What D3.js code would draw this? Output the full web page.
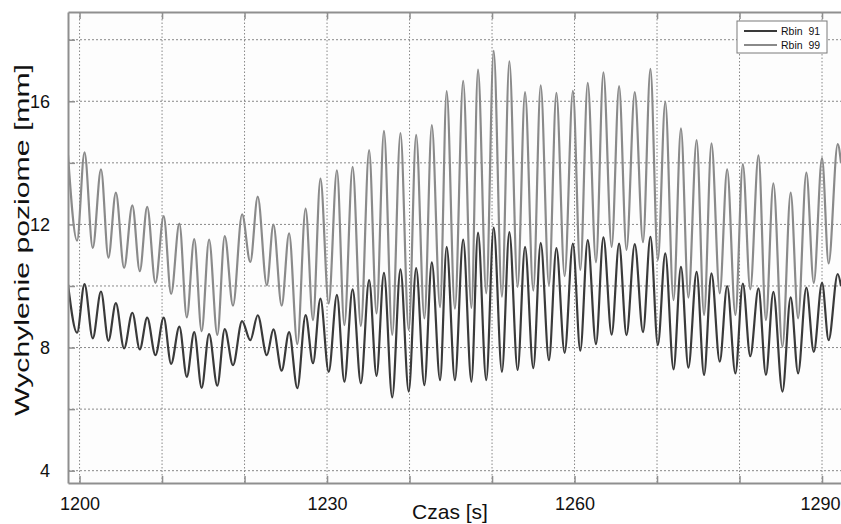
<!DOCTYPE html>
<html>
<head>
<meta charset="utf-8">
<script src="https://cdn.jsdelivr.net/npm/d3@7"></script>
<style>
  body { margin: 0; background: #fff; }
  text { font-family: "Liberation Sans", Arial, sans-serif; fill: #111; }
</style>
</head>
<body>
<div class="chart"></div>
<script>
// times of the turning points (peaks and troughs), shared by both series
var times = [
  1198.6, 1199.7, 1200.6, 1201.6, 1202.6, 1203.5, 1204.4, 1205.4, 1206.4, 1207.3,
  1208.2, 1209.2, 1210.2, 1211.1, 1212.1, 1213.0, 1213.9, 1214.8, 1215.7, 1216.7,
  1217.6, 1218.6, 1219.7, 1220.7, 1221.6, 1222.7, 1223.5, 1224.5, 1225.4, 1226.4,
  1227.4, 1228.3, 1229.2, 1230.2, 1231.2, 1232.1, 1233.1, 1234.1, 1235.1, 1236.0,
  1236.9, 1237.9, 1238.9, 1239.9, 1240.8, 1241.8, 1242.7, 1243.7, 1244.5, 1245.5,
  1246.5, 1247.5, 1248.3, 1249.3, 1250.2, 1251.2, 1252.1, 1253.1, 1254.0, 1255.0,
  1255.9, 1256.9, 1257.8, 1258.8, 1259.8, 1260.7, 1261.6, 1262.6, 1263.5, 1264.5,
  1265.4, 1266.3, 1267.3, 1268.3, 1269.2, 1270.1, 1271.0, 1272.0, 1272.9, 1273.8,
  1274.8, 1275.7, 1276.6, 1277.6, 1278.5, 1279.5, 1280.4, 1281.3, 1282.3, 1283.2,
  1284.1, 1285.2, 1286.2, 1287.1, 1288.1, 1289.0, 1290.0, 1290.8, 1291.9, 1292.3
];

// Rbin 91 (dark line)
var rbin91 = [
  10.05, 8.48, 10.06, 8.30, 9.82, 8.22, 9.44, 7.97, 9.13, 7.94,
  8.97, 7.75, 8.97, 7.47, 8.68, 7.05, 8.50, 6.69, 8.44, 6.76,
  8.60, 7.43, 8.86, 8.24, 9.05, 7.75, 8.59, 7.25, 8.50, 6.68,
  9.05, 7.49, 9.59, 7.21, 9.71, 6.89, 9.89, 6.84, 10.19, 7.08,
  10.43, 6.38, 10.54, 6.57, 10.58, 6.78, 10.77, 6.94, 11.27, 6.94,
  11.51, 6.89, 11.73, 6.94, 11.90, 7.21, 11.75, 7.27, 11.27, 7.33,
  11.40, 7.59, 11.23, 7.83, 11.38, 7.90, 11.49, 8.11, 11.58, 8.42,
  11.38, 8.40, 11.36, 8.50, 11.60, 8.08, 11.06, 7.29, 10.62, 7.35,
  10.46, 7.11, 10.41, 7.54, 10.00, 7.16, 10.08, 7.72, 9.92, 7.11,
  9.81, 6.57, 9.63, 7.16, 9.95, 7.86, 10.10, 8.24, 10.39, 10.0
];

// Rbin 99 (grey line)
var rbin99 = [
  14.25, 11.47, 14.34, 11.24, 13.79, 10.92, 13.03, 10.59, 12.62, 10.48,
  12.57, 10.10, 12.27, 9.74, 12.03, 8.98, 11.52, 8.53, 11.51, 8.41,
  11.62, 9.36, 12.33, 10.78, 12.90, 10.02, 11.99, 9.36, 11.71, 8.11,
  12.51, 8.89, 13.49, 9.43, 13.76, 8.73, 13.87, 8.70, 14.41, 9.11,
  15.04, 8.41, 14.97, 8.57, 14.91, 8.95, 15.23, 9.31, 16.33, 9.26,
  16.66, 9.29, 17.03, 9.76, 17.64, 9.65, 17.30, 9.97, 16.30, 9.85,
  16.52, 10.03, 16.27, 10.32, 16.34, 10.52, 16.60, 10.77, 16.94, 11.27,
  16.49, 11.17, 16.30, 11.42, 17.05, 10.84, 15.98, 9.54, 15.12, 9.62,
  14.74, 9.06, 14.63, 9.76, 13.79, 9.06, 13.96, 9.89, 14.24, 8.89,
  13.33, 8.03, 13.03, 8.95, 13.68, 10.10, 14.15, 10.73, 14.61, 14.0
];

var seriesNames = ["Rbin  91", "Rbin  99"];
var xGridTicks = [1200, 1210, 1220, 1230, 1240, 1250, 1260, 1270, 1280, 1290];
var xTickLabels = [1200, 1230, 1260, 1290];
var yGridTicks = [4, 6, 8, 10, 12, 14, 16, 18];
var yTickLabels = [4, 8, 12, 16];

var svgWidth = 841;
var svgHeight = 524;

// plot box (the right side runs off the picture)
var margin = { top: 12, right: 0, bottom: 41, left: 68 };
var width = svgWidth - margin.left - margin.right;
var height = svgHeight - margin.top - margin.bottom;

var svg = d3.select(".chart")
    .append("svg")
    .attr("width", svgWidth)
    .attr("height", svgHeight);

var chartGroup = svg.append("g")
    .attr("transform", `translate(${margin.left}, ${margin.top})`);

var xScale = d3.scaleLinear()
    .domain([1198.6, 1292.3])
    .range([0, width]);

var yScale = d3.scaleLinear()
    .domain([3.6, 18.9])
    .range([height, 0]);

// plot background
chartGroup.append("rect")
    .attr("width", width)
    .attr("height", height)
    .attr("fill", "#fdfdfd");

// dotted grid
chartGroup.append("g")
    .selectAll("line")
    .data(xGridTicks)
    .enter()
    .append("line")
    .attr("x1", d => xScale(d))
    .attr("x2", d => xScale(d))
    .attr("y1", 0)
    .attr("y2", height)
    .attr("stroke", "#888")
    .attr("stroke-width", 1)
    .attr("stroke-dasharray", "1.5,2");

chartGroup.append("g")
    .selectAll("line")
    .data(yGridTicks)
    .enter()
    .append("line")
    .attr("x1", 0)
    .attr("x2", width)
    .attr("y1", d => yScale(d))
    .attr("y2", d => yScale(d))
    .attr("stroke", "#888")
    .attr("stroke-width", 1)
    .attr("stroke-dasharray", "2,2");

// clip the lines to the plot box
svg.append("defs").append("clipPath")
    .attr("id", "plot-clip")
    .append("rect")
    .attr("width", width)
    .attr("height", height);

var seriesLine = d3.line()
    .x((d, i) => xScale(times[i]))
    .y(d => yScale(d))
    .curve(d3.curveMonotoneX);

var linesGroup = chartGroup.append("g")
    .attr("clip-path", "url(#plot-clip)");

linesGroup.append("path")
    .datum(rbin99)
    .attr("d", seriesLine)
    .attr("fill", "none")
    .attr("stroke", "#8a8a8a")
    .attr("stroke-width", 2.2);

linesGroup.append("path")
    .datum(rbin91)
    .attr("d", seriesLine)
    .attr("fill", "none")
    .attr("stroke", "#3a3a3a")
    .attr("stroke-width", 2.2);

// axes: ticks point inwards, labels only on some of them
var bottomAxis = d3.axisBottom(xScale)
    .tickValues(xGridTicks)
    .tickSizeInner(-7)
    .tickSizeOuter(0)
    .tickPadding(14)
    .tickFormat(d => xTickLabels.indexOf(d) >= 0 ? d : "");

var topAxis = d3.axisTop(xScale)
    .tickValues(xGridTicks)
    .tickSizeInner(-7)
    .tickSizeOuter(0)
    .tickFormat("");

var leftAxis = d3.axisLeft(yScale)
    .tickValues(yGridTicks)
    .tickSizeInner(-7)
    .tickSizeOuter(0)
    .tickPadding(18)
    .tickFormat(d => yTickLabels.indexOf(d) >= 0 ? d : "");

var xAxis = chartGroup.append("g")
    .attr("transform", `translate(0, ${height})`)
    .call(bottomAxis);

var xTop = chartGroup.append("g")
    .call(topAxis);

var yAxis = chartGroup.append("g")
    .call(leftAxis);

[xAxis, xTop, yAxis].forEach(function(ax) {
  ax.select(".domain").attr("stroke", "#8f8f8f").attr("stroke-width", 2);
  ax.selectAll(".tick line").attr("stroke", "#8f8f8f").attr("stroke-width", 1.5);
  ax.selectAll(".tick text")
      .style("font-family", "'Liberation Sans', Arial, sans-serif")
      .style("font-size", "18px")
      .attr("fill", "#111");
});

// last x label sits against the right edge of the picture
xAxis.selectAll(".tick text")
    .filter(d => d === 1290)
    .attr("dx", "-2");

// axis titles
svg.append("text")
    .attr("x", margin.left + 382)
    .attr("y", 519)
    .attr("text-anchor", "middle")
    .style("font-size", "21px")
    .text("Czas [s]");

svg.append("text")
    .attr("transform", "translate(29, 240) rotate(-90)")
    .attr("text-anchor", "middle")
    .attr("textLength", 352)
    .attr("lengthAdjust", "spacingAndGlyphs")
    .style("font-size", "20px")
    .text("Wychylenie poziome [mm]");

// legend
var legend = svg.append("g")
    .attr("transform", "translate(737, 21)");

legend.append("rect")
    .attr("width", 90)
    .attr("height", 32)
    .attr("fill", "#fff")
    .attr("stroke", "#7a7a7a")
    .attr("stroke-width", 1);

var legendColors = ["#3a3a3a", "#8a8a8a"];

seriesNames.forEach(function(name, i) {
  legend.append("line")
      .attr("x1", 7)
      .attr("x2", 40)
      .attr("y1", 10 + i * 14)
      .attr("y2", 10 + i * 14)
      .attr("stroke", legendColors[i])
      .attr("stroke-width", 2);
  legend.append("text")
      .attr("x", 44)
      .attr("y", 14 + i * 14)
      .style("font-size", "10.5px")
      .attr("fill", "#444")
      .style("white-space", "pre")
      .text(name);
});
</script>
</body>
</html>
